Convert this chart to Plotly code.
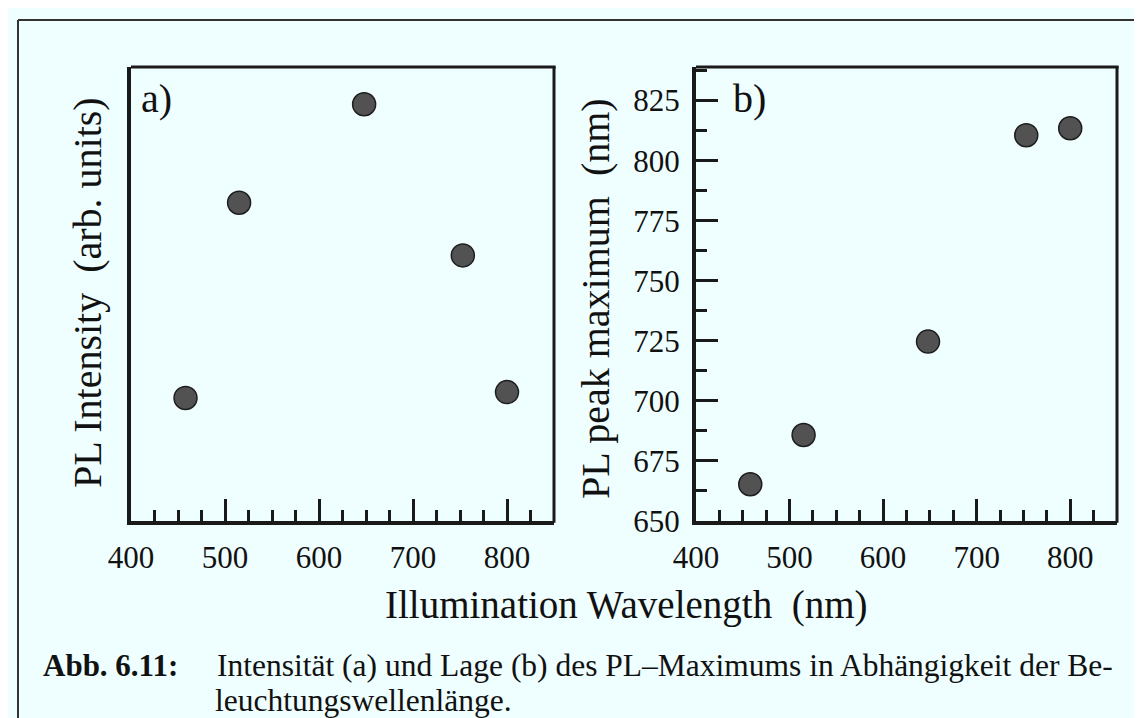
import plotly.graph_objects as go

# ---- data ----
wavelength = [458, 515, 648, 753, 800]          # illumination wavelength (nm)
pl_intensity = [27.1, 70.1, 91.8, 58.5, 28.4]   # panel a, arb. units
pl_peak = [665.3, 685.8, 724.7, 810.6, 813.5]   # panel b, nm
x_ticks = [400, 500, 600, 700, 800]
y_ticks_b = [650, 675, 700, 725, 750, 775, 800, 825]

W, H = 1142, 718
BG = "#effefe"
INK = "#1a1a1a"
FONT = "Liberation Serif"


def px(x):
    return x / W


def py(y):
    return 1 - y / H


marker = dict(size=23, color="#525252", line=dict(color="#1e1e1e", width=1.5))

fig = go.Figure()
fig.add_trace(go.Scatter(x=wavelength, y=pl_intensity, mode="markers",
                         marker=marker, xaxis="x", yaxis="y", showlegend=False))
fig.add_trace(go.Scatter(x=wavelength, y=pl_peak, mode="markers",
                         marker=marker, xaxis="x2", yaxis="y2", showlegend=False))

common_x = dict(range=[400, 850], tickmode="array", tickvals=x_ticks,
                ticks="inside", ticklen=22, tickwidth=3, tickcolor=INK,
                minor=dict(ticks="inside", ticklen=11, tickwidth=3, tickcolor=INK,
                           tick0=400, dtick=25),
                showline=True, linewidth=4, linecolor=INK, mirror=False,
                showgrid=False, zeroline=False, automargin=False,
                tickfont=dict(family=FONT, size=31, color="#111"),
                ticklabelstandoff=6)

fig.update_layout(
    template="none",
    width=W, height=H,
    margin=dict(l=0, r=0, t=0, b=0),
    paper_bgcolor=BG, plot_bgcolor=BG,
    font=dict(family=FONT, color="#111"),
    xaxis=dict(domain=[px(123), px(546)], anchor="y", **common_x),
    yaxis=dict(domain=[py(513), py(59)], anchor="x", range=[0, 100],
               showticklabels=False, ticks="", showline=True, linewidth=4,
               linecolor=INK, mirror=False, showgrid=False, zeroline=False,
               automargin=False),
    xaxis2=dict(domain=[px(688), px(1109)], anchor="y2", **common_x),
    yaxis2=dict(domain=[py(513), py(59)], anchor="x2", range=[650, 839],
                tickmode="array", tickvals=y_ticks_b,
                ticks="inside", ticklen=22, tickwidth=3, tickcolor=INK,
                minor=dict(ticks="inside", ticklen=11, tickwidth=3, tickcolor=INK,
                           tick0=650, dtick=12.5),
                showline=True, linewidth=4, linecolor=INK, mirror=False,
                showgrid=False, zeroline=False, automargin=False,
                tickfont=dict(family=FONT, size=31, color="#111"),
                ticklabelstandoff=6),
)

ann = []
# axis titles
ann.append(dict(text="Illumination Wavelength&nbsp; (nm)", x=px(618), y=py(597),
                xref="paper", yref="paper", xanchor="center", yanchor="middle",
                showarrow=False, font=dict(family=FONT, size=39, color="#111")))
ann.append(dict(text="PL Intensity&nbsp; (arb. units)", x=px(79), y=py(285),
                xref="paper", yref="paper", xanchor="center", yanchor="middle",
                textangle=-90, showarrow=False,
                font=dict(family=FONT, size=40, color="#111")))
ann.append(dict(text="PL peak maximum&nbsp; (nm)", x=px(587), y=py(290),
                xref="paper", yref="paper", xanchor="center", yanchor="middle",
                textangle=-90, showarrow=False,
                font=dict(family=FONT, size=40, color="#111")))
# panel labels
ann.append(dict(text="a)", x=px(131), y=py(90), xref="paper", yref="paper",
                xanchor="left", yanchor="middle", showarrow=False,
                font=dict(family=FONT, size=40, color="#111")))
ann.append(dict(text="b)", x=px(723), y=py(90), xref="paper", yref="paper",
                xanchor="left", yanchor="middle", showarrow=False,
                font=dict(family=FONT, size=40, color="#111")))
# caption
ann.append(dict(text="<b>Abb. 6.11:</b>", x=px(33), y=py(657), xref="paper", yref="paper",
                xanchor="left", yanchor="middle", showarrow=False,
                font=dict(family=FONT, size=31, color="#111")))
ann.append(dict(text="Intensität (a) und Lage (b) des PL–Maximums in Abhängigkeit der Be-",
                x=px(207), y=py(657), xref="paper", yref="paper",
                xanchor="left", yanchor="middle", showarrow=False,
                font=dict(family=FONT, size=31.5, color="#111")))
ann.append(dict(text="leuchtungswellenlänge.", x=px(205), y=py(692), xref="paper", yref="paper",
                xanchor="left", yanchor="middle", showarrow=False,
                font=dict(family=FONT, size=31.5, color="#111")))
fig.update_layout(annotations=ann)

frame_top_right = []
for xa, ya in (("x", "y"), ("x2", "y2")):
    frame_top_right.append(dict(type="line", xref=f"{xa} domain", yref=f"{ya} domain",
                                x0=0, x1=1.004, y0=1, y1=1,
                                line=dict(color=INK, width=3)))
    frame_top_right.append(dict(type="line", xref=f"{xa} domain", yref=f"{ya} domain",
                                x0=1, x1=1, y0=-0.004, y1=1,
                                line=dict(color=INK, width=3)))

# outer frame (top and left edges of the scanned page box)
fig.update_layout(shapes=frame_top_right + [
    dict(type="line", xref="paper", yref="paper", x0=px(10), x1=1, y0=py(12), y1=py(12),
         line=dict(color="#333", width=2)),
    dict(type="line", xref="paper", yref="paper", x0=px(10), x1=px(10), y0=py(12), y1=0,
         line=dict(color="#333", width=2)),
])

fig.write_html("out.html")
